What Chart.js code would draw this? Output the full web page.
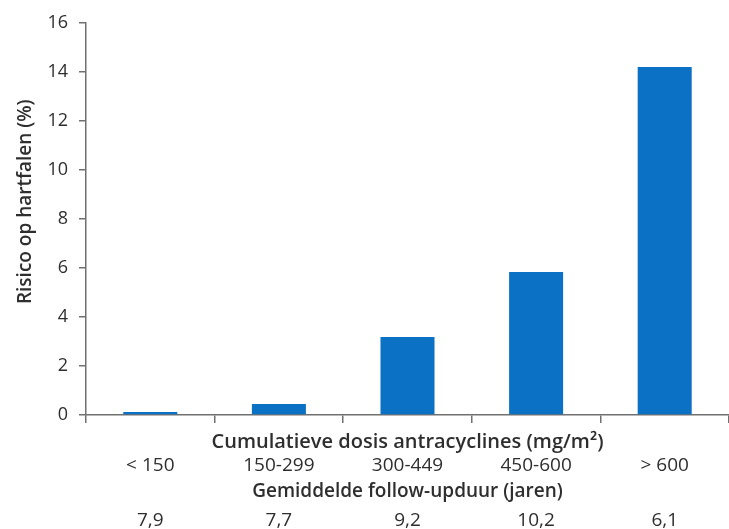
<!DOCTYPE html>
<html>
<head>
<meta charset="utf-8">
<script src="https://cdn.jsdelivr.net/npm/chart.js@4/dist/chart.umd.min.js"></script>
<style>
    html, body { margin: 0; padding: 0; background: #fff; }
    #wrap { width: 729px; height: 529px; }
</style>
</head>
<body>
<div id="wrap"><canvas id="risk-chart" width="729" height="529"></canvas></div>
<script>
const doseCategories = ['< 150', '150-299', '300-449', '450-600', '> 600'];
const heartFailureRisk = [0.12, 0.45, 3.18, 5.84, 14.2];
const followUpYears = ['7,9', '7,7', '9,2', '10,2', '6,1'];

const axisColor = '#707070';
const textColor = '#2e2e2e';
const fontFamily = "'Open Sans', sans-serif";

// leading spaces push the rotated y title a bit up, like in the original
const yTitle = '\u00a0'.repeat(7) + 'Risico op hartfalen (%)';

const ctx = document.getElementById('risk-chart').getContext('2d');
const riskChart = new Chart(ctx, {
    type: 'bar',
    data: {
        labels: doseCategories,
        datasets: [{
            label: 'Risico op hartfalen (%)',
            data: heartFailureRisk,
            backgroundColor: '#0a71c4',
            borderWidth: 0,
            barPercentage: 0.42,
            categoryPercentage: 1
        }]
    },
    options: {
        responsive: false,
        animation: false,
        layout: {
            padding: { top: 23, right: 0, bottom: 0, left: 0 }
        },
        plugins: {
            legend: { display: false },
            tooltip: { enabled: false }
        },
        scales: {
            y: {
                min: 0,
                max: 16,
                ticks: {
                    stepSize: 2,
                    padding: 11,
                    color: textColor,
                    font: { family: fontFamily, size: 18 }
                },
                grid: {
                    drawOnChartArea: false,
                    drawTicks: true,
                    tickLength: 7,
                    color: axisColor,
                    lineWidth: 1.5
                },
                border: { color: axisColor, width: 1.5 },
                title: {
                    display: true,
                    text: yTitle,
                    color: textColor,
                    padding: { top: 14, bottom: 0 },
                    font: { family: fontFamily, size: 19, weight: '600' }
                },
                afterFit: function(scale) {
                    scale.width = 86;
                }
            },
            x: {
                position: 'bottom',
                ticks: { display: false },
                grid: {
                    offset: true,
                    drawOnChartArea: false,
                    drawTicks: true,
                    tickLength: 8,
                    color: axisColor,
                    lineWidth: 1.5
                },
                border: { color: axisColor, width: 1.5 },
                title: {
                    display: true,
                    text: 'Cumulatieve dosis antracyclines (mg/m²)',
                    color: textColor,
                    padding: { top: 6, bottom: 0 },
                    font: { family: fontFamily, size: 20, weight: '600', lineHeight: 1.1 }
                },
                afterFit: function(scale) {
                    scale.height = 38;
                }
            },
            xDose: {
                type: 'category',
                position: 'bottom',
                labels: doseCategories,
                grid: { display: false, drawTicks: false },
                border: { display: false },
                ticks: {
                    padding: 2,
                    color: textColor,
                    maxRotation: 0,
                    font: { family: fontFamily, size: 19, lineHeight: 1.15 }
                },
                title: {
                    display: true,
                    text: 'Gemiddelde follow-upduur (jaren)',
                    color: textColor,
                    padding: { top: 5, bottom: 0 },
                    font: { family: fontFamily, size: 19, weight: '600', lineHeight: 1.15 }
                },
                afterFit: function(scale) {
                    scale.height = 50;
                }
            },
            xFollow: {
                type: 'category',
                position: 'bottom',
                labels: followUpYears,
                grid: { display: false, drawTicks: false },
                border: { display: false },
                ticks: {
                    padding: 8,
                    color: textColor,
                    maxRotation: 0,
                    font: { family: fontFamily, size: 19, lineHeight: 1.0 }
                },
                afterFit: function(scale) {
                    scale.height = 26;
                }
            }
        }
    }
});
</script>
</body>
</html>
